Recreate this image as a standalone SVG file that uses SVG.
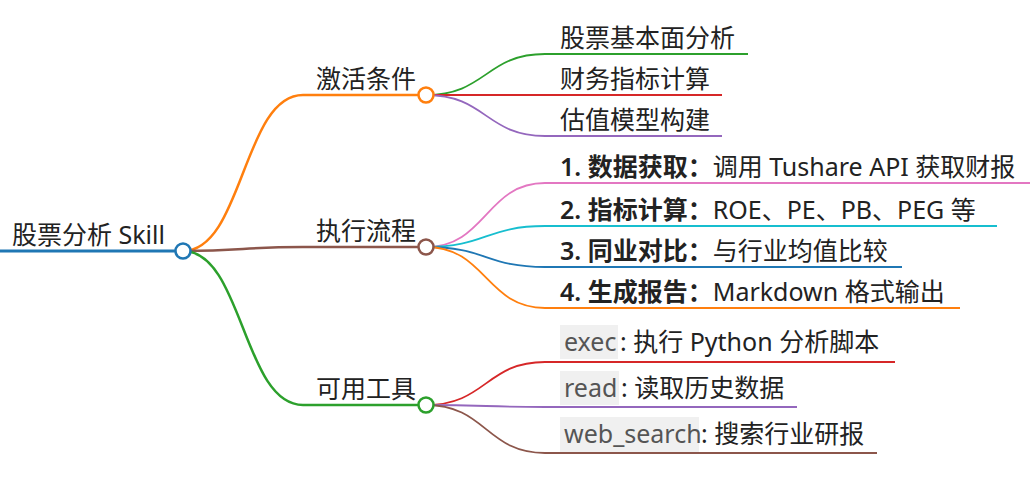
<svg xmlns="http://www.w3.org/2000/svg" width="1035" height="483" viewBox="0 0 1035 483">
<style>
text{font-family:"Noto Sans","Noto Sans CJK SC",sans-serif;font-size:25px;fill:#222}
.b{font-weight:600}
.code{fill:#555}
.bg{fill:#f0f0f0}
path,line{fill:none}
circle{fill:#fff;stroke-width:2.5}
.l0{stroke-width:3}
.l1{stroke-width:2.5}
.l2{stroke-width:1.8}
</style>
<rect width="1035" height="483" fill="#fff"/>
<g id="connectors">
<line class="l0" x1="0" y1="251" x2="183" y2="251" stroke="#1f77b4"/>
<path class="l1" d="M183,251 C243,251 243,95 303,95 H426" stroke="#ff7f0e"/>
<path class="l1" d="M183,251 C243,251 243,247 303,247 H426" stroke="#8c564b"/>
<path class="l1" d="M183,251 C243,251 243,405 303,405 H426" stroke="#2ca02c"/>
<path class="l2" d="M426,95 C486,95 486,54 545,54 H748" stroke="#2ca02c"/>
<path class="l2" d="M426,95 C486,95 486,95 545,95 H722" stroke="#d62728"/>
<path class="l2" d="M426,95 C486,95 486,136 545,136 H722" stroke="#9467bd"/>
<path class="l2" d="M426,247 C486,247 486,183 545,183 H1030" stroke="#e377c2"/>
<path class="l2" d="M426,247 C486,247 486,226 545,226 H997" stroke="#17becf"/>
<path class="l2" d="M426,247 C486,247 486,267 545,267 H902" stroke="#1f77b4"/>
<path class="l2" d="M426,247 C486,247 486,308 545,308 H960" stroke="#ff7f0e"/>
<path class="l2" d="M426,405 C486,405 486,362 545,362 H895" stroke="#d62728"/>
<path class="l2" d="M426,405 C486,405 486,407 545,407 H797" stroke="#9467bd"/>
<path class="l2" d="M426,405 C486,405 486,453 545,453 H877" stroke="#8c564b"/>
</g>
<g id="root">
<text x="12" y="244">股票分析 Skill</text>
<circle cx="183" cy="251" r="7.5" stroke="#1f77b4"/>
</g>
<g id="n-activate">
<text x="316" y="88">激活条件</text>
<circle cx="426" cy="95" r="7.5" stroke="#ff7f0e"/>
</g>
<g id="n-a1"><text x="560" y="47">股票基本面分析</text></g>
<g id="n-a2"><text x="560" y="88">财务指标计算</text></g>
<g id="n-a3"><text x="560" y="129">估值模型构建</text></g>
<g id="n-flow">
<text x="316" y="240">执行流程</text>
<circle cx="426" cy="247" r="7.5" stroke="#8c564b"/>
</g>
<g id="n-f1"><text x="560" y="176"><tspan class="b">1. 数据获取：</tspan>调用 Tushare API 获取财报</text></g>
<g id="n-f2"><text x="560" y="219"><tspan class="b">2. 指标计算：</tspan>ROE、PE、PB、PEG 等</text></g>
<g id="n-f3"><text x="560" y="260"><tspan class="b">3. 同业对比：</tspan>与行业均值比较</text></g>
<g id="n-f4"><text x="560" y="301"><tspan class="b">4. 生成报告：</tspan>Markdown 格式输出</text></g>
<g id="n-tools">
<text x="316" y="398">可用工具</text>
<circle cx="426" cy="405" r="7.5" stroke="#2ca02c"/>
</g>
<g id="n-t1">
<rect class="bg" x="560" y="325" width="58" height="34"/>
<text x="564" y="351"><tspan class="code">exec</tspan></text>
<text x="620" y="351">: 执行 Python 分析脚本</text>
</g>
<g id="n-t2">
<rect class="bg" x="560" y="371" width="59" height="34"/>
<text x="564" y="397"><tspan class="code">read</tspan></text>
<text x="621" y="397">: 读取历史数据</text>
</g>
<g id="n-t3">
<rect class="bg" x="560" y="417" width="139" height="35"/>
<text x="564" y="443"><tspan class="code">web_search</tspan></text>
<text x="701" y="443">: 搜索行业研报</text>
</g>
</svg>
